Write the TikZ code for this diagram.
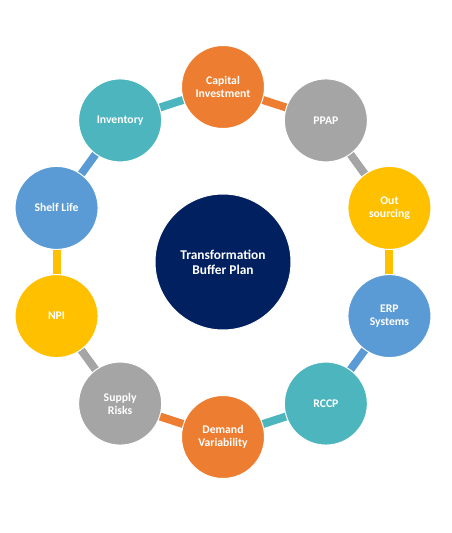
\documentclass[tikz,border=0pt]{standalone}
\usepackage{fontspec}
\setmainfont{Carlito}
\usetikzlibrary{calc}
\definecolor{corange}{HTML}{ED7D31}
\definecolor{cgray}{HTML}{A5A5A5}
\definecolor{cyellow}{HTML}{FFC000}
\definecolor{cblue}{HTML}{5B9BD5}
\definecolor{cteal}{HTML}{4DB5BD}
\definecolor{cnavy}{HTML}{002060}
\begin{document}
\begin{tikzpicture}[x=1pt,y=1pt,
  outer/.style={circle,minimum size=83pt,inner sep=0pt,draw=white,line width=1pt,
    text=white,font=\bfseries\fontsize{11.7}{13}\selectfont,align=center},
  hub/.style={circle,minimum size=136pt,inner sep=0pt,draw=white,line width=1pt,fill=cnavy,
    text=white,font=\bfseries\fontsize{13.4}{15}\selectfont,align=center},
  link/.style={line width=8pt}]
\useasboundingbox (0,0) rectangle (451,533);
\coordinate (c) at (223,271);
\coordinate (p1) at ($(c)+(90:175)$);
\coordinate (p2) at ($(c)+(54:175)$);
\coordinate (p3) at ($(c)+(18:175)$);
\coordinate (p4) at ($(c)+(-18:175)$);
\coordinate (p5) at ($(c)+(-54:175)$);
\coordinate (p6) at ($(c)+(-90:175)$);
\coordinate (p7) at ($(c)+(-126:175)$);
\coordinate (p8) at ($(c)+(-162:175)$);
\coordinate (p9) at ($(c)+(162:175)$);
\coordinate (p10) at ($(c)+(126:175)$);
\draw[link,cteal] (p10) -- (p1);
\draw[link,corange] (p1) -- (p2);
\draw[link,cgray] (p2) -- (p3);
\draw[link,cyellow] (p3) -- (p4);
\draw[link,cblue] (p4) -- (p5);
\draw[link,cteal] (p5) -- (p6);
\draw[link,corange] (p6) -- (p7);
\draw[link,cgray] (p7) -- (p8);
\draw[link,cyellow] (p8) -- (p9);
\draw[link,cblue] (p9) -- (p10);
\node[hub] (hub) at (c) {Transformation\\Buffer Plan};
\node[outer,fill=corange] (cap) at (p1) {Capital\\Investment};
\node[outer,fill=cgray] (ppap) at (p2) {PPAP};
\node[outer,fill=cyellow] (out) at (p3) {Out\\sourcing};
\node[outer,fill=cblue] (erp) at (p4) {ERP\\Systems};
\node[outer,fill=cteal] (rccp) at (p5) {RCCP};
\node[outer,fill=corange] (dem) at (p6) {Demand\\Variability};
\node[outer,fill=cgray] (sup) at (p7) {Supply\\Risks};
\node[outer,fill=cyellow] (npi) at (p8) {NPI};
\node[outer,fill=cblue] (shelf) at (p9) {Shelf Life};
\node[outer,fill=cteal] (inv) at (p10) {Inventory};
\end{tikzpicture}
\end{document}
